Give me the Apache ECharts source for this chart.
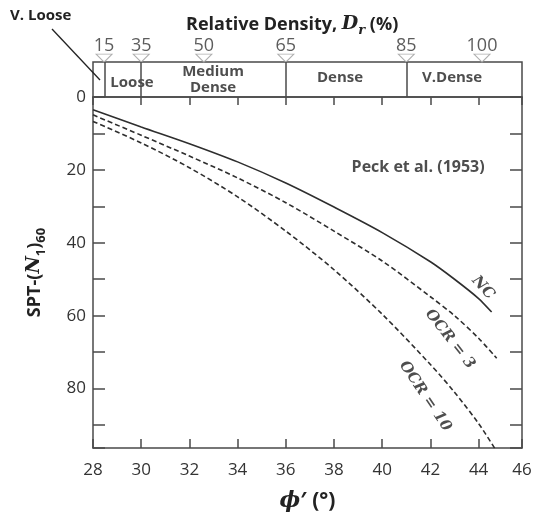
<!DOCTYPE html>
<html>
<head>
    <meta charset="utf-8"/>
    <style>
        html, body {
            margin: 0;
            padding: 0;
            background: #ffffff;
        }

        #main {
            width: 537px;
            height: 517px;
        }
    </style>
</head>
<body>
<div id="main"></div>
<script src="https://cdn.jsdelivr.net/npm/echarts@6/dist/echarts.min.js"></script>
<script type="text/javascript">
    // phi' (deg) -> SPT-(N1)60
    var ncCurve = [[28, 3.5], [30, 8.2], [32, 12.8], [34, 17.8], [36, 23.6], [38, 30.2], [40, 37.2], [42, 45.2], [43, 50], [44, 55.3], [44.54, 59]];
    var ocr3Curve = [[28, 4.9], [30, 10.5], [32, 16.2], [34, 22.2], [36, 29], [38, 36.8], [40, 45], [42, 54.8], [43, 60], [44, 66.2], [44.75, 71.7]];
    var ocr10Curve = [[28, 6.7], [30, 12.6], [32, 19.4], [34, 27.4], [36, 36.8], [38, 47.4], [40, 59.6], [42, 73.4], [43, 81], [44, 89.6], [44.68, 96.5]];

    // relative density band on top
    var drPct = ['15', '35', '50', '65', '85', '100'];
    var drPhi = [28.46, 30, 32.6, 36, 41, 44.14];
    var bandBounds = [28.5, 30, 36, 41];
    var classNames = ['Loose', 'Medium\nDense', 'Dense', 'V.Dense'];
    var classPhi = [29.62, 32.98, 38.25, 42.9];
    var classLevel = [0.4, 0.5, 0.54, 0.54];

    // text notes inside the plot
    var noteText = ['Peck et al. (1953)', 'NC', 'OCR = 3', 'OCR = 10'];
    var notePos = [[41.49, 19.2], [44.18, 52.3], [42.81, 66.4], [41.78, 82.1]];
    var noteRotate = [0, -48, -52, -56];

    var xMin = 28, xMax = 45.8, yMin = 0, yMax = 96.3;

    var frameColor = '#4a4a4a';
    var curveColor = '#2e2e2e';
    var sans = '"Open Sans", "DejaVu Sans", sans-serif';
    var serif = '"DejaVu Serif", "Liberation Serif", serif';

    var myChart = echarts.init(document.getElementById('main'));

    function curve(name, data, dashed) {
        return {
            name: name,
            type: 'line',
            xAxisIndex: 0,
            yAxisIndex: 0,
            data: data,
            smooth: 0.3,
            showSymbol: false,
            symbol: 'none',
            lineStyle: {
                color: curveColor,
                width: 1.6,
                type: dashed ? [5, 3] : 'solid'
            }
        };
    }

    var option = {
        animation: false,
        backgroundColor: '#ffffff',
        title: {
            left: 181,
            top: 10,
            text: '{b|Relative Density, }{d|D}{r|r}{b| (%)}',
            textStyle: {
                rich: {
                    b: {fontFamily: sans, fontWeight: 'bold', fontSize: 18, color: '#222', verticalAlign: 'bottom', padding: [0, 0, 3, 0]},
                    d: {fontFamily: serif, fontWeight: 'bold', fontStyle: 'italic', fontSize: 19, color: '#222', verticalAlign: 'bottom', padding: [0, 0, 3, 0]},
                    r: {fontFamily: serif, fontWeight: 'bold', fontStyle: 'italic', fontSize: 13, color: '#222', verticalAlign: 'bottom'}
                }
            }
        },
        grid: [
            {left: 93, right: 15, top: 97, bottom: 64},
            {left: 93, right: 15, top: 62, height: 35, show: true, borderColor: frameColor, borderWidth: 1.5, backgroundColor: 'transparent'}
        ],
        xAxis: [{
            gridIndex: 0,
            type: 'value',
            position: 'bottom',
            min: xMin,
            max: xMax,
            interval: 2,
            name: '{p|\u03D5}{b|\u2032 (\u00B0)}',
            nameLocation: 'middle',
            nameGap: 42,
            nameTextStyle: {
                rich: {
                    p: {fontFamily: serif, fontStyle: 'italic', fontWeight: 'bold', fontSize: 22, color: '#222'},
                    b: {fontFamily: sans, fontWeight: 'bold', fontSize: 21, color: '#222'}
                }
            },
            axisLine: {show: true, onZero: false, lineStyle: {color: frameColor, width: 1.5}},
            axisTick: {show: true, inside: true, length: 9, lineStyle: {color: frameColor, width: 1.5}},
            axisLabel: {
                margin: 14,
                fontFamily: sans,
                fontSize: 17,
                color: '#333',
                formatter: function (v) {
                    return v > 45 ? '46' : String(v);
                }
            },
            splitLine: {show: false}
        }, {
            gridIndex: 0,
            type: 'value',
            position: 'top',
            min: xMin,
            max: xMax,
            interval: 2,
            axisLine: {show: true, onZero: false, lineStyle: {color: frameColor, width: 1.5}},
            axisTick: {show: true, inside: true, length: 8, lineStyle: {color: frameColor, width: 1.5}},
            axisLabel: {show: false},
            splitLine: {show: false}
        }, {
            gridIndex: 1,
            type: 'value',
            min: xMin,
            max: xMax,
            show: false
        }],
        yAxis: [{
            gridIndex: 0,
            type: 'value',
            inverse: true,
            position: 'left',
            min: yMin,
            max: yMax,
            interval: 10,
            name: '{a|SPT-(}{n|N}{s|1}{a|)}{s|60}',
            nameLocation: 'middle',
            nameRotate: 90,
            nameGap: 45,
            nameTextStyle: {
                rich: {
                    a: {fontFamily: sans, fontWeight: 'bold', fontSize: 18, color: '#222', verticalAlign: 'bottom', padding: [0, 0, 4, 0]},
                    n: {fontFamily: serif, fontStyle: 'italic', fontWeight: 'bold', fontSize: 19, color: '#222', verticalAlign: 'bottom', padding: [0, 0, 4, 0]},
                    s: {fontFamily: sans, fontWeight: 'bold', fontSize: 13, color: '#222', verticalAlign: 'bottom'}
                }
            },
            axisLine: {show: true, onZero: false, lineStyle: {color: frameColor, width: 1.5}},
            axisTick: {show: true, inside: true, length: 12, lineStyle: {color: frameColor, width: 1.5}},
            axisLabel: {
                margin: 7,
                fontFamily: sans,
                fontSize: 17,
                color: '#333',
                formatter: function (v) {
                    return v % 20 === 0 ? String(v) : '';
                }
            },
            splitLine: {show: false}
        }, {
            gridIndex: 0,
            type: 'value',
            inverse: true,
            position: 'right',
            min: yMin,
            max: yMax,
            interval: 10,
            axisLine: {show: true, onZero: false, lineStyle: {color: frameColor, width: 1.5}},
            axisTick: {show: true, inside: true, length: 12, lineStyle: {color: frameColor, width: 1.5}},
            axisLabel: {show: false},
            splitLine: {show: false}
        }, {
            gridIndex: 1,
            type: 'value',
            min: 0,
            max: 1,
            show: false
        }],
        graphic: [{
            type: 'text',
            left: 10,
            top: 8,
            style: {text: 'V. Loose', font: 'bold 15px ' + sans, fill: '#222'}
        }, {
            type: 'line',
            shape: {x1: 52, y1: 29, x2: 100, y2: 80},
            style: {stroke: '#222', lineWidth: 1.3}
        }],
        series: [
            curve('NC', ncCurve, false),
            curve('OCR = 3', ocr3Curve, true),
            curve('OCR = 10', ocr10Curve, true),
            {
                name: 'notes',
                type: 'scatter',
                xAxisIndex: 0,
                yAxisIndex: 0,
                symbolSize: 0,
                silent: true,
                data: notePos.map(function (p, i) {
                    var isPeck = i === 0;
                    return {
                        value: p,
                        label: {
                            show: true,
                            position: 'inside',
                            formatter: noteText[i],
                            rotate: noteRotate[i],
                            fontFamily: isPeck ? sans : serif,
                            fontStyle: isPeck ? 'normal' : 'italic',
                            fontWeight: 'bold',
                            fontSize: isPeck ? 16 : 15,
                            color: '#222'
                        }
                    };
                })
            },
            {
                name: 'bands',
                type: 'scatter',
                xAxisIndex: 2,
                yAxisIndex: 2,
                symbolSize: 0,
                silent: true,
                data: classPhi.map(function (p, i) {
                    return {
                        value: [p, classLevel[i]],
                        label: {
                            show: true,
                            position: 'inside',
                            formatter: classNames[i],
                            fontFamily: sans,
                            fontWeight: 'bold',
                            fontSize: 15,
                            lineHeight: 16,
                            color: '#222'
                        }
                    };
                }),
                markLine: {
                    silent: true,
                    symbol: 'none',
                    label: {show: false},
                    lineStyle: {color: frameColor, width: 1.5, type: 'solid'},
                    data: bandBounds.map(function (b) {
                        return {xAxis: b};
                    })
                }
            },
            {
                name: 'Dr',
                type: 'scatter',
                xAxisIndex: 2,
                yAxisIndex: 2,
                clip: false,
                silent: true,
                symbol: 'triangle',
                symbolRotate: 180,
                symbolSize: [16, 8],
                itemStyle: {color: '#ffffff', borderColor: '#9a9a9a', borderWidth: 1},
                data: drPhi.map(function (p, i) {
                    return {
                        value: [p, 1.11],
                        label: {
                            show: true,
                            position: 'top',
                            distance: -1,
                            formatter: drPct[i],
                            fontFamily: sans,
                            fontSize: 18,
                            color: '#333'
                        }
                    };
                })
            }
        ]
    };

    myChart.setOption(option);
</script>
</body>
</html>
